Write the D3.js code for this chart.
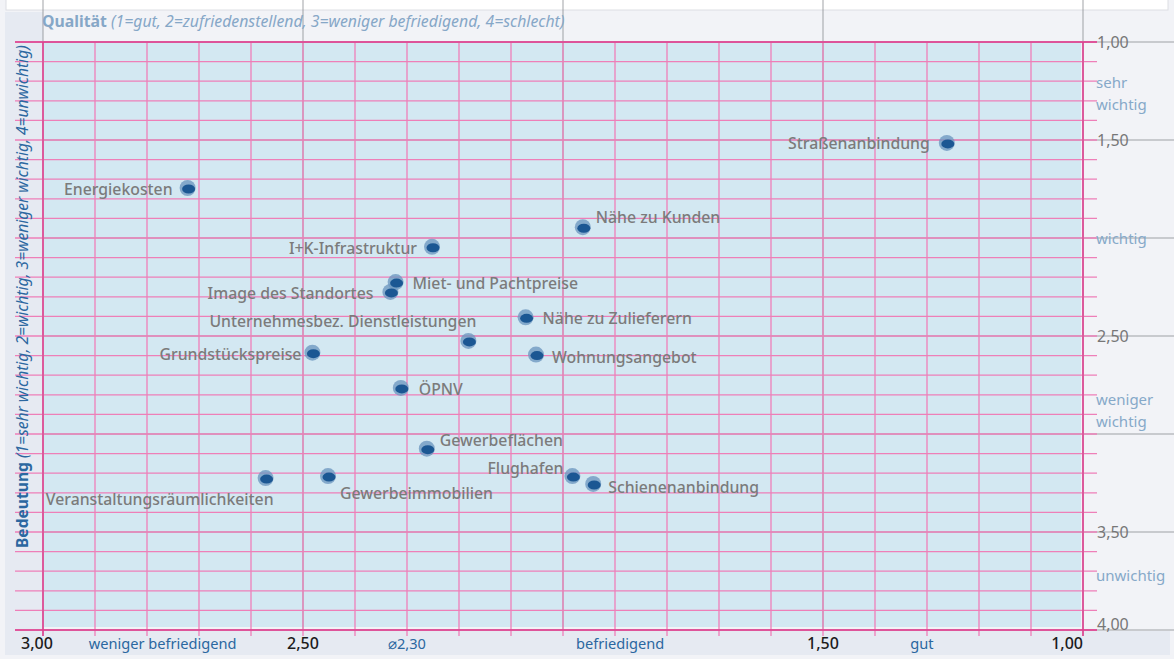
<!DOCTYPE html>
<html>
<head>
<meta charset="utf-8">
<script src="https://cdn.jsdelivr.net/npm/d3@7"></script>
<style>
  body { margin: 0; background: #f2f3f7; }
  svg { display: block; font-family: "Noto Sans", sans-serif; }
</style>
</head>
<body>
<svg id="chart"></svg>
<script>
// factors, quality (x) and importance (y)
const factors = [
    "Straßenanbindung", "Energiekosten", "Nähe zu Kunden", "I+K-Infrastruktur",
    "Miet- und Pachtpreise", "Image des Standortes", "Unternehmesbez. Dienstleistungen",
    "Nähe zu Zulieferern", "Grundstückspreise", "Wohnungsangebot", "ÖPNV",
    "Gewerbeflächen", "Flughafen", "Schienenanbindung", "Gewerbeimmobilien",
    "Veranstaltungsräumlichkeiten"
]
const quality    = [1.26, 2.72, 1.96, 2.25, 2.32, 2.33, 2.18, 2.07, 2.48, 2.05, 2.31, 2.26, 1.98, 1.94, 2.45, 2.57]
const importance = [1.52, 1.75, 1.95, 2.05, 2.23, 2.28, 2.53, 2.41, 2.59, 2.60, 2.77, 3.08, 3.22, 3.26, 3.22, 3.23]

// where each label sits next to its dot
const labelPlace = [
    [-18, -1, "end"], [-16, 0, "end"], [12, -11, "start"], [-16, 0, "end"],
    [16, 0, "start"], [-18, 0, "end"], [7, -21, "end"], [16, 0, "start"],
    [-12, 0, "end"], [15, 1, "start"], [17, 0, "start"], [12, -10, "start"],
    [-10, -9, "end"], [14, 2, "start"], [11, 16, "start"], [7, 20, "end"]
]

const xTicks = [3.0, 2.5, 1.5, 1.0]
const xTickLabels = ["3,00", "2,50", "1,50", "1,00"]
const xWords = ["weniger befriedigend", "⌀2,30", "befriedigend", "gut"]
const xWordPos = [2.77, 2.30, 1.89, 1.31]

const yTicks = [1.0, 1.5, 2.5, 3.5, 4.0]
const yTickLabels = ["1,00", "1,50", "2,50", "3,50", "4,00"]
const yWords = [["sehr", "wichtig"], ["wichtig"], ["weniger", "wichtig"], ["unwichtig"]]
const yWordPos = [1.26, 2.0, 2.88, 3.72]

const width = 1174, height = 659

const svg = d3.select("#chart")
    .attr("width", width)
    .attr("height", height)

const x = d3.scaleLinear().domain([3, 1]).range([43, 1083])
const y = d3.scaleLinear().domain([1, 4]).range([42, 630])

// page background pieces
svg.append("rect").attr("x", 0).attr("y", 0).attr("width", width).attr("height", height).attr("fill", "#f2f3f7")
svg.append("rect").attr("x", 6).attr("y", -2).attr("width", 1162).attr("height", 12)
    .attr("fill", "#fff").attr("stroke", "#dcdee3")
svg.append("rect").attr("x", 5).attr("y", 12).attr("width", 38).attr("height", 643).attr("fill", "#e6eaf2")
svg.append("rect").attr("x", 5).attr("y", 631).attr("width", 1165).attr("height", 24).attr("fill", "#e6eaf2")

// plot area
svg.append("rect")
    .attr("x", x(3)).attr("y", y(1))
    .attr("width", x(1) - x(3) - 2).attr("height", y(4) - y(1) - 3)
    .attr("fill", "#d3e8f2")

// grey layout lines
const half = d3.range(3, 0.99, -0.5)
svg.selectAll(".gv").data(half).join("line")
    .attr("x1", d => x(d)).attr("x2", d => x(d))
    .attr("y1", 0).attr("y2", y(4))
    .attr("stroke", "#8a8d92").attr("stroke-opacity", 0.4).attr("stroke-width", 2)
svg.selectAll(".gh").data(d3.range(1, 4.01, 0.5)).join("line")
    .attr("x1", x(3)).attr("x2", width)
    .attr("y1", d => y(d)).attr("y2", d => y(d))
    .attr("stroke", "#8a8d92").attr("stroke-opacity", 0.4).attr("stroke-width", 2)

// pink grid
const xs = d3.range(0, 21).map(i => 3 - i * 0.1)
const ys = d3.range(0, 31).map(i => 1 + i * 0.1)
svg.selectAll(".pv").data(xs).join("line")
    .attr("x1", d => x(d)).attr("x2", d => x(d))
    .attr("y1", y(1)).attr("y2", y(4) + 6)
    .attr("stroke", "#ee7fb8").attr("stroke-width", 1.3)
svg.selectAll(".ph").data(ys).join("line")
    .attr("x1", 15).attr("x2", 1097)
    .attr("y1", d => y(d)).attr("y2", d => y(d))
    .attr("stroke", "#ee7fb8").attr("stroke-width", 1.3)

// axis borders
svg.append("line").attr("x1", x(3)).attr("x2", x(3)).attr("y1", y(1)).attr("y2", y(4) + 6)
    .attr("stroke", "#dc5a9c").attr("stroke-width", 2)
svg.append("line").attr("x1", x(1)).attr("x2", x(1)).attr("y1", y(1)).attr("y2", y(4) + 6)
    .attr("stroke", "#dc5a9c").attr("stroke-width", 2)
svg.append("line").attr("x1", 15).attr("x2", 1097).attr("y1", y(1)).attr("y2", y(1))
    .attr("stroke", "#dc3f8e").attr("stroke-width", 1.6)
svg.append("line").attr("x1", 15).attr("x2", 1097).attr("y1", y(4)).attr("y2", y(4))
    .attr("stroke", "#dc3f8e").attr("stroke-width", 1.6)

// points
const pts = factors.map((name, i) => ({name, q: quality[i], b: importance[i], place: labelPlace[i]}))

const dots = svg.append("g")
dots.selectAll("circle").data(pts).join("circle")
    .attr("cx", d => x(d.q) - 1).attr("cy", d => y(d.b) - 1)
    .attr("r", 8)
    .attr("fill", "#6f98c0").attr("fill-opacity", 0.8)
dots.selectAll("ellipse").data(pts).join("ellipse")
    .attr("cx", d => x(d.q)).attr("cy", d => y(d.b))
    .attr("rx", 6.5).attr("ry", 4.5)
    .attr("fill", "#1b5793")

svg.append("g").selectAll("text").data(pts).join("text")
    .attr("x", d => x(d.q) + d.place[0])
    .attr("y", d => y(d.b) + d.place[1])
    .attr("text-anchor", d => d.place[2])
    .attr("dominant-baseline", "central")
    .attr("font-size", 15.8)
    .attr("font-weight", 500)
    .attr("fill", "#7b7b7b")
    .text(d => d.name)

// bottom axis labels
svg.selectAll(".xl").data(xTicks).join("text")
    .attr("x", (d, i) => i === 0 ? x(d) - 6 : x(d))
    .attr("y", 643)
    .attr("text-anchor", (d, i) => i === xTicks.length - 1 ? "end" : "middle")
    .attr("dominant-baseline", "central")
    .attr("font-size", 16)
    .attr("font-weight", 500)
    .attr("fill", "#1c1c1c")
    .text((d, i) => xTickLabels[i])
svg.selectAll(".xw").data(xWordPos).join("text")
    .attr("x", d => x(d))
    .attr("y", 643)
    .attr("text-anchor", "middle")
    .attr("dominant-baseline", "central")
    .attr("font-size", 14.6)
    .attr("fill", "#2b67a0")
    .text((d, i) => xWords[i])

// right axis labels
svg.selectAll(".yl").data(yTicks).join("text")
    .attr("x", 1097)
    .attr("y", (d, i) => i === yTicks.length - 1 ? y(d) - 6 : y(d))
    .attr("dominant-baseline", "central")
    .attr("font-size", 16)
    .attr("fill", "#777")
    .text((d, i) => yTickLabels[i])
yWords.forEach((lines, i) => {
    const t = svg.append("text")
        .attr("x", 1096)
        .attr("y", y(yWordPos[i]) - (lines.length - 1) * 11)
        .attr("font-size", 15)
        .attr("fill", "#86a9c9")
        .attr("dominant-baseline", "central")
    lines.forEach((line, j) => {
        t.append("tspan").attr("x", 1096).attr("dy", j === 0 ? 0 : 22).text(line)
    })
})

// titles
const topTitle = svg.append("text")
    .attr("x", 42).attr("y", 27)
    .attr("font-size", 15.8)
    .attr("fill", "#86a7c7")
topTitle.append("tspan").attr("font-weight", 700).text("Qualität ")
topTitle.append("tspan").attr("font-style", "italic").text("(1=gut, 2=zufriedenstellend, 3=weniger befriedigend, 4=schlecht)")

const sideTitle = svg.append("text")
    .attr("transform", "translate(28,548) rotate(-90)")
    .attr("font-size", 15.6)
    .attr("fill", "#2b67a0")
sideTitle.append("tspan").attr("font-weight", 700).text("Bedeutung ")
sideTitle.append("tspan").attr("font-style", "italic").text(" (1=sehr wichtig, 2=wichtig, 3=weniger wichtig, 4=unwichtig)")
</script>
</body>
</html>
